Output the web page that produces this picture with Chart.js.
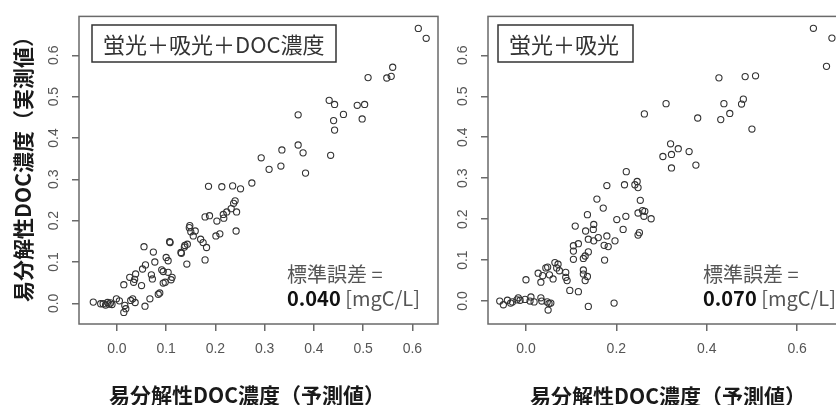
<!DOCTYPE html>
<html>
<head>
<meta charset="utf-8">
<script src="https://cdn.jsdelivr.net/npm/chart.js@4.4.1/dist/chart.umd.min.js"></script>
<style>
html, body { margin: 0; padding: 0; background: #fff; overflow: hidden; width: 836px; height: 405px; }
#c1 { position: absolute; left: 0; top: 0; }
#c2 { position: absolute; left: 450px; top: 0; }
</style>
</head>
<body>
<canvas id="c1" width="450" height="405"></canvas>
<canvas id="c2" width="420" height="405"></canvas>
<script>
// 左：蛍光＋吸光＋DOC濃度  (予測値, 実測値)
const predLeft = [0.612, 0.628, 0.560, 0.557, 0.548, 0.510, 0.431, 0.442, 0.488, 0.503,
	0.460, 0.498, 0.440, 0.442, 0.368, 0.368, 0.378, 0.383, 0.434, 0.335,
	0.333, 0.293, 0.309, 0.274, 0.186, 0.213, 0.235, 0.251, 0.240, 0.237,
	0.232, 0.223, 0.216, 0.217, 0.243, 0.242, 0.179, 0.188, 0.203, 0.201,
	0.209, 0.148, 0.147, 0.150, 0.159, 0.155, 0.170, 0.175, 0.182, 0.138,
	0.130, 0.142, 0.179, 0.107, 0.108, 0.055, 0.074, 0.100, 0.104, 0.077,
	0.058, 0.052, 0.038, 0.026, 0.036, 0.034, 0.050, 0.014, 0.070, 0.072,
	0.091, 0.094, 0.104, 0.112, 0.110, 0.098, 0.094, 0.087, 0.084, 0.067,
	0.057, -0.048, -0.033, -0.028, -0.023, -0.019, -0.016, -0.013, -0.010, -0.001,
	0.005, 0.016, 0.018, 0.014, 0.028, 0.032, 0.037, 0.131, 0.137, 0.143]
const obsLeft = [0.665, 0.641, 0.571, 0.549, 0.545, 0.546, 0.491, 0.481, 0.479, 0.481,
	0.457, 0.446, 0.442, 0.419, 0.456, 0.383, 0.364, 0.315, 0.358, 0.371,
	0.332, 0.352, 0.324, 0.291, 0.283, 0.282, 0.284, 0.277, 0.248, 0.242,
	0.229, 0.221, 0.215, 0.206, 0.221, 0.175, 0.209, 0.212, 0.199, 0.163,
	0.168, 0.188, 0.183, 0.173, 0.175, 0.163, 0.155, 0.147, 0.135, 0.140,
	0.123, 0.095, 0.105, 0.149, 0.147, 0.137, 0.124, 0.111, 0.103, 0.100,
	0.093, 0.083, 0.071, 0.063, 0.058, 0.051, 0.043, 0.045, 0.069, 0.059,
	0.081, 0.077, 0.075, 0.063, 0.057, 0.051, 0.049, 0.025, 0.022, 0.011,
	-0.007, 0.003, -0.001, -0.001, -0.004, 0.002, -0.002, 0.001, -0.003, 0.011,
	0.006, -0.005, -0.013, -0.022, 0.007, 0.011, 0.002, 0.121, 0.136, 0.143]

// 右：蛍光＋吸光
const predRight = [0.636, 0.677, 0.665, 0.427, 0.485, 0.508, 0.438, 0.481, 0.477, 0.451,
	0.431, 0.500, 0.380, 0.310, 0.262, 0.320, 0.337, 0.322, 0.303, 0.361,
	0.376, 0.322, 0.222, 0.179, 0.218, 0.241, 0.246, 0.248, 0.157, 0.253,
	0.171, 0.248, 0.258, 0.263, 0.261, 0.277, 0.221, 0.201, 0.215, 0.251,
	0.248, 0.136, 0.109, 0.132, 0.150, 0.149, 0.160, 0.150, 0.138, 0.179,
	0.173, 0.182, 0.197, 0.174, 0.116, 0.105, 0.105, 0.105, 0.138, 0.131,
	0.127, 0.127, 0.127, 0.136, 0.131, 0.116, 0.097, 0.091, 0.088, 0.088,
	0.074, 0.064, 0.071, 0.068, 0.044, 0.048, 0.052, 0.060, 0.037, 0.027,
	0.033, 0.000, 0.138, 0.195, -0.058, -0.050, -0.041, -0.034, -0.030, -0.020,
	-0.017, -0.013, -0.002, 0.009, 0.011, 0.018, 0.033, 0.035, 0.047, 0.051,
	0.055, 0.049]
const obsRight = [0.666, 0.642, 0.573, 0.545, 0.548, 0.550, 0.482, 0.493, 0.481, 0.458,
	0.443, 0.420, 0.447, 0.482, 0.457, 0.384, 0.372, 0.358, 0.353, 0.365,
	0.332, 0.325, 0.316, 0.282, 0.284, 0.284, 0.292, 0.277, 0.249, 0.246,
	0.227, 0.215, 0.221, 0.219, 0.207, 0.201, 0.207, 0.199, 0.175, 0.167,
	0.161, 0.211, 0.183, 0.171, 0.187, 0.175, 0.155, 0.147, 0.151, 0.159,
	0.136, 0.133, 0.147, 0.100, 0.140, 0.135, 0.122, 0.102, 0.120, 0.110,
	0.104, 0.076, 0.066, 0.060, 0.050, 0.023, 0.026, 0.050, 0.058, 0.070,
	0.074, 0.094, 0.090, 0.081, 0.081, 0.083, 0.064, 0.054, 0.062, 0.068,
	0.046, 0.052, -0.013, -0.005, 0.000, -0.009, 0.002, -0.005, -0.002, 0.003,
	0.008, 0.002, 0.004, 0.000, 0.010, -0.002, 0.008, 0.000, -0.002, -0.006,
	-0.005, -0.022]

const xTicksLeft = [0.0, 0.1, 0.2, 0.3, 0.4, 0.5, 0.6]
const xTicksRight = [0.0, 0.2, 0.4, 0.6]
const yTicks = [0.0, 0.1, 0.2, 0.3, 0.4, 0.5, 0.6]

const jp = '"Noto Sans CJK JP", "Noto Sans", sans-serif'
const tickFont = { family: '"Liberation Sans", Arial, sans-serif', size: 14 }

const panelText = {
	id: 'panelText',
	afterDraw(chart, args, o) {
		const { ctx, chartArea: a } = chart
		ctx.save()
		// plot box
		ctx.strokeStyle = '#6a6a6a'
		ctx.lineWidth = 1.5
		ctx.strokeRect(a.left, a.top, a.right - a.left, a.bottom - a.top)

		// legend box
		ctx.strokeStyle = '#333'
		ctx.lineWidth = 1.5
		ctx.strokeRect(o.box[0], o.box[1], o.box[2], o.box[3])
		ctx.fillStyle = '#333'
		ctx.font = '22px ' + jp
		ctx.textBaseline = 'middle'
		ctx.textAlign = 'left'
		ctx.fillText(o.label, o.box[0] + 11, o.box[1] + o.box[3] / 2 + 1)

		// 標準誤差
		ctx.font = '20px ' + jp
		ctx.fillStyle = '#555'
		ctx.fillText('標準誤差 =', o.se[0], o.se[1])
		ctx.font = 'bold 20px ' + jp
		ctx.fillStyle = '#111'
		ctx.fillText(o.seValue, o.se[0], o.se[1] + 24)
		const w = ctx.measureText(o.seValue).width
		ctx.font = '20px ' + jp
		ctx.fillStyle = '#555'
		ctx.fillText(' [mgC/L]', o.se[0] + w, o.se[1] + 24)

		// axis titles
		ctx.fillStyle = '#1a1a1a'
		ctx.font = 'bold 21px ' + jp
		ctx.textAlign = 'center'
		ctx.fillText('易分解性DOC濃度（予測値）', o.xTitle[0], o.xTitle[1])
		if (o.yTitle) {
			ctx.translate(o.yTitle[0], o.yTitle[1])
			ctx.rotate(-Math.PI / 2)
			ctx.fillText('易分解性DOC濃度（実測値）', 0, 0)
		}
		ctx.restore()
	}
}

const scatterChart = (id, xs, ys, xTicks, xr, yr, yWidth, padRight, text) => {
	new Chart(id, {
		type: 'scatter',
		data: {
			datasets: [
				{
					data: xs.map((x, i) => ({ x: x, y: ys[i] })),
					pointRadius: 3.1,
					pointBorderWidth: 1.1,
					pointBorderColor: '#333',
					pointBackgroundColor: 'rgba(0,0,0,0)'
				}
			]
		},
		options: {
			responsive: false,
			animation: false,
			layout: { padding: { top: 13, right: padRight, bottom: 0, left: 0 } },
			plugins: { legend: { display: false }, tooltip: { enabled: false }, panelText: text },
			scales: {
				x: {
					type: 'linear',
					min: xr[0],
					max: xr[1],
					afterBuildTicks: s => { s.ticks = xTicks.map(v => ({ value: v })) },
					afterFit: s => { s.height = 81 },
					grid: { drawOnChartArea: false, drawTicks: true, tickLength: 7, color: '#6a6a6a', lineWidth: 1.5 },
					border: { display: false },
					ticks: { color: '#555', font: tickFont, padding: 10, maxRotation: 0, callback: v => v.toFixed(1) }
				},
				y: {
					type: 'linear',
					min: yr[0],
					max: yr[1],
					afterBuildTicks: s => { s.ticks = yTicks.map(v => ({ value: v })) },
					afterFit: s => { s.width = yWidth },
					grid: { drawOnChartArea: false, drawTicks: true, tickLength: 7, color: '#6a6a6a', lineWidth: 1.5 },
					border: { display: false },
					ticks: { color: '#555', font: tickFont, padding: 8, minRotation: 90, maxRotation: 90, crossAlign: 'center', callback: v => v.toFixed(1) }
				}
			}
		},
		plugins: [panelText]
	})
}

scatterChart('c1', predLeft, obsLeft, xTicksLeft, [-0.077, 0.652], [-0.050, 0.694], 79, 12, {
	box: [92, 25, 244, 37], label: '蛍光＋吸光＋DOC濃度', se: [287, 274], seValue: '0.040',
	xTitle: [247, 395], yTitle: [23, 164]
})
scatterChart('c2', predRight, obsRight, xTicksRight, [-0.084, 0.717], [-0.056, 0.695], 38, 20, {
	box: [48, 25, 135, 37], label: '蛍光＋吸光', se: [253, 274], seValue: '0.070',
	xTitle: [218, 396]
})
</script>
</body>
</html>
